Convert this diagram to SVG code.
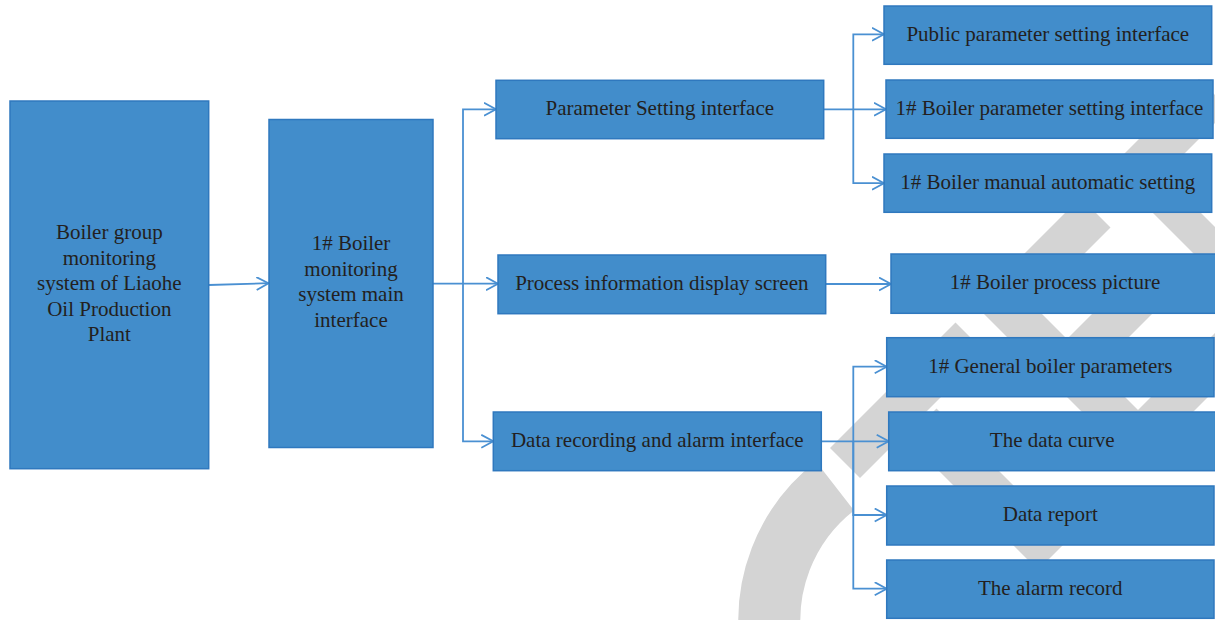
<svg xmlns="http://www.w3.org/2000/svg" width="1215" height="620" viewBox="0 0 1215 620">
  <defs>
    <style>
      .box { fill: #428DCB; stroke: #2F78BE; stroke-width: 1.5; }
      .lbl { font-family: "Liberation Serif", "Times New Roman", serif; font-size: 21px; fill: #231F20; text-anchor: middle; }
      .wire { fill: none; stroke: #4A90D2; stroke-width: 1.8; }
      .arrow { fill: none; stroke: #4A90D2; stroke-width: 1.8; stroke-linejoin: miter; }
      .mark { fill: #D4D4D4; stroke: none; }
    </style>
    <marker id="open-arrow" markerUnits="userSpaceOnUse" markerWidth="16" markerHeight="16" refX="12.5" refY="7" orient="auto">
      <path class="arrow" d="M0.5,0.5 L12.5,7 L0.5,13.5"/>
    </marker>
  </defs>

  <rect width="1215" height="620" fill="#FFFFFF"/>

  <!-- background mark: diagonal bands drawn in a 45-degree (u = x+y, v = x-y) frame, plus an arc -->
  <g id="background-mark">
    <g transform="matrix(0.5 0.5 0.5 -0.5 0 0)">
      <rect class="mark" x="1278" y="960" width="60" height="160"/>
      <rect class="mark" x="1278" y="745" width="60" height="138"/>
      <rect class="mark" x="1278" y="382" width="60" height="251"/>
      <rect class="mark" x="1345" y="940" width="420" height="48"/>
      <rect class="mark" x="1250" y="670" width="355" height="58"/>
      <rect class="mark" x="1548" y="670" width="57" height="230"/>
      <rect class="mark" x="1406" y="700" width="60" height="180"/>
      <rect class="mark" x="1345" y="468" width="263" height="60"/>
    </g>
    <path d="M835,486 A170,170 0 0 0 772,650" fill="none" stroke="#D4D4D4" stroke-width="62"/>
  </g>

  <!-- connectors -->
  <g id="connectors">
    <path class="wire" d="M208.7,285 L268.5,283.2" marker-end="url(#open-arrow)"/>
    <path class="wire" d="M433,283.7 H498" marker-end="url(#open-arrow)"/>
    <path class="wire" d="M463,283.7 V109.3 H496" marker-end="url(#open-arrow)"/>
    <path class="wire" d="M463,283.7 V441.3 H493.3" marker-end="url(#open-arrow)"/>

    <path class="wire" d="M823.7,109.3 H886" marker-end="url(#open-arrow)"/>
    <path class="wire" d="M853.3,109.3 V34.3 H884" marker-end="url(#open-arrow)"/>
    <path class="wire" d="M853.3,109.3 V183.2 H884" marker-end="url(#open-arrow)"/>

    <path class="wire" d="M825.7,284 H891" marker-end="url(#open-arrow)"/>

    <path class="wire" d="M821.3,441.3 H888.7" marker-end="url(#open-arrow)"/>
    <path class="wire" d="M853.3,441.3 V366.7 H886.7" marker-end="url(#open-arrow)"/>
    <path class="wire" d="M853.3,441.3 V515 H886.7" marker-end="url(#open-arrow)"/>
    <path class="wire" d="M853.3,441.3 V588.7 H886.7" marker-end="url(#open-arrow)"/>
  </g>

  <!-- nodes -->
  <g id="node-plant">
    <rect class="box" x="10" y="101" width="198.7" height="367.7"/>
    <text class="lbl" x="109.3" y="239">Boiler group</text>
    <text class="lbl" x="109.3" y="264.5">monitoring</text>
    <text class="lbl" x="109.3" y="290">system of Liaohe</text>
    <text class="lbl" x="109.3" y="315.5">Oil Production</text>
    <text class="lbl" x="109.3" y="341">Plant</text>
  </g>

  <g id="node-main">
    <rect class="box" x="269" y="119.5" width="164" height="328"/>
    <text class="lbl" x="351" y="250">1# Boiler</text>
    <text class="lbl" x="351" y="275.5">monitoring</text>
    <text class="lbl" x="351" y="301">system main</text>
    <text class="lbl" x="351" y="326.5">interface</text>
  </g>

  <g id="node-param-setting">
    <rect class="box" x="496" y="80.3" width="327.7" height="58.4"/>
    <text class="lbl" x="659.8" y="115">Parameter Setting interface</text>
  </g>

  <g id="node-process-info">
    <rect class="box" x="498" y="255" width="327.7" height="58.7"/>
    <text class="lbl" x="661.8" y="289.8">Process information display screen</text>
  </g>

  <g id="node-data-recording">
    <rect class="box" x="493.3" y="412" width="328" height="58.7"/>
    <text class="lbl" x="657.3" y="446.8">Data recording and alarm interface</text>
  </g>

  <g id="node-public-param">
    <rect class="box" x="884" y="6" width="327.7" height="58.3"/>
    <text class="lbl" x="1047.8" y="40.7">Public parameter setting interface</text>
  </g>

  <g id="node-boiler-param">
    <rect class="box" x="886" y="80" width="327" height="58.3"/>
    <text class="lbl" x="1049.5" y="114.7">1# Boiler parameter setting interface</text>
  </g>

  <g id="node-manual-auto">
    <rect class="box" x="884" y="154" width="327.7" height="58.3"/>
    <text class="lbl" x="1047.8" y="188.7">1# Boiler manual automatic setting</text>
  </g>

  <g id="node-process-picture">
    <rect class="box" x="891" y="254" width="328" height="59.3"/>
    <text class="lbl" x="1055" y="289.2">1# Boiler process picture</text>
  </g>

  <g id="node-general-params">
    <rect class="box" x="886.7" y="337.7" width="327.3" height="59"/>
    <text class="lbl" x="1050.3" y="372.7">1# General boiler parameters</text>
  </g>

  <g id="node-data-curve">
    <rect class="box" x="888.7" y="412" width="327" height="58.7"/>
    <text class="lbl" x="1052.2" y="446.8">The data curve</text>
  </g>

  <g id="node-data-report">
    <rect class="box" x="886.7" y="486" width="327.3" height="59"/>
    <text class="lbl" x="1050.3" y="521">Data report</text>
  </g>

  <g id="node-alarm-record">
    <rect class="box" x="886.7" y="560" width="327.3" height="58.3"/>
    <text class="lbl" x="1050.3" y="594.7">The alarm record</text>
  </g>
</svg>
